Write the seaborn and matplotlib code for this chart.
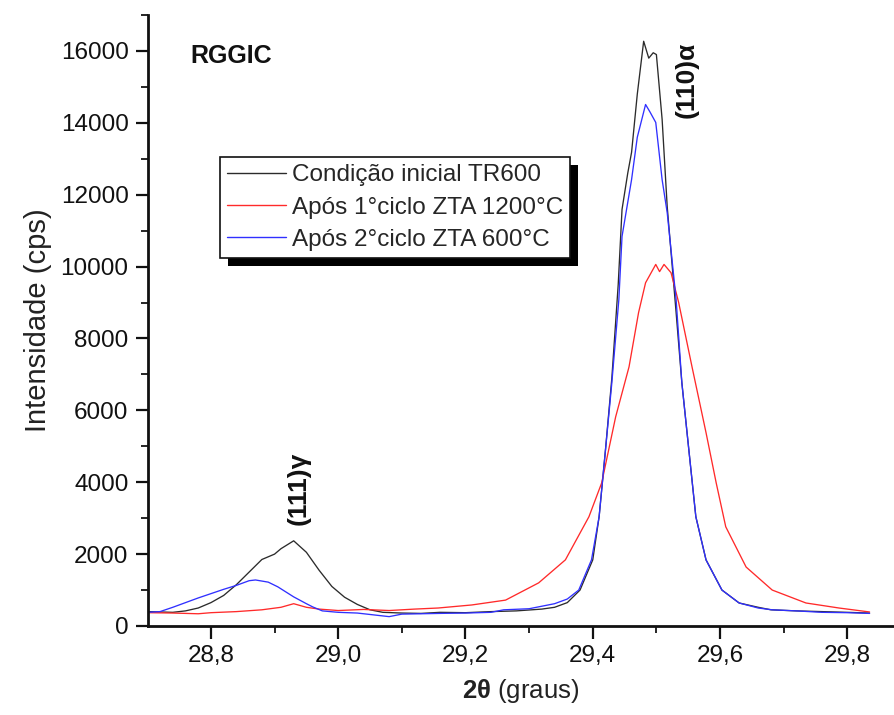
import numpy as np
import pandas as pd
import matplotlib
matplotlib.use("Agg")
import matplotlib.pyplot as plt
from matplotlib.patches import Rectangle
from matplotlib.ticker import FixedLocator, MultipleLocator
import seaborn as sns

# ---------------- data ----------------
series_names = ["Condição inicial TR600",
                "Após 1°ciclo ZTA 1200°C",
                "Após 2°ciclo ZTA 600°C"]

x_tr600 = [28.70, 28.72, 28.74, 28.76, 28.78, 28.80, 28.82, 28.84, 28.86, 28.88,
           28.90, 28.91, 28.93, 28.95, 28.97, 28.99, 29.01, 29.03, 29.05, 29.07,
           29.10, 29.13, 29.16, 29.20, 29.24, 29.28, 29.32, 29.34, 29.36, 29.38,
           29.40, 29.41, 29.42, 29.43, 29.44, 29.446, 29.455, 29.461, 29.47, 29.48,
           29.488, 29.495, 29.50, 29.509, 29.517, 29.531, 29.54, 29.551, 29.562, 29.578,
           29.603, 29.63, 29.66, 29.68, 29.72, 29.76, 29.80, 29.835]
y_tr600 = [400, 390, 380, 420, 500, 650, 850, 1150, 1500, 1850,
           2000, 2150, 2370, 2050, 1550, 1100, 800, 600, 450, 380,
           360, 350, 380, 370, 400, 420, 470, 520, 650, 1000,
           1840, 3040, 4900, 6900, 9500, 11590, 12600, 13180, 14800, 16270,
           15800, 15950, 15900, 14100, 11670, 8720, 6770, 4900, 3040, 1840,
           1000, 640, 520, 450, 420, 400, 380, 360]

x_zta1200 = [28.70, 28.74, 28.78, 28.80, 28.84, 28.88, 28.91, 28.93, 28.95, 28.97,
             29.00, 29.04, 29.08, 29.12, 29.157, 29.21, 29.263, 29.315, 29.357, 29.394,
             29.414, 29.436, 29.457, 29.472, 29.483, 29.499, 29.505, 29.512, 29.523, 29.535,
             29.556, 29.578, 29.594, 29.609, 29.641, 29.682, 29.735, 29.787, 29.835]
y_zta1200 = [370, 360, 340, 370, 400, 450, 520, 620, 520, 470,
             430, 460, 430, 470, 500, 585, 720, 1200, 1840, 3040,
             3980, 5820, 7210, 8720, 9550, 10060, 9860, 10060, 9830, 9000,
             7210, 5380, 3980, 2760, 1640, 1000, 640, 500, 390]

x_zta600 = [28.70, 28.72, 28.74, 28.76, 28.78, 28.80, 28.82, 28.84, 28.86, 28.87,
            28.89, 28.905, 28.93, 28.95, 28.96, 28.975, 29.00, 29.03, 29.06, 29.08,
            29.10, 29.13, 29.16, 29.20, 29.24, 29.26, 29.30, 29.34, 29.36, 29.378,
            29.398, 29.41, 29.42, 29.43, 29.441, 29.446, 29.461, 29.47, 29.483, 29.49,
            29.499, 29.509, 29.517, 29.531, 29.54, 29.551, 29.562, 29.578, 29.603, 29.63,
            29.66, 29.682, 29.72, 29.76, 29.80, 29.835]
y_zta600 = [380, 400, 520, 650, 780, 900, 1020, 1130, 1260, 1280,
            1220, 1090, 810, 620, 530, 420, 380, 360, 300, 260,
            330, 340, 350, 360, 380, 450, 480, 620, 750, 1000,
            1840, 3040, 4900, 6770, 9080, 10840, 12420, 13600, 14510, 14300,
            14010, 12420, 11500, 9080, 6770, 4900, 3040, 1840, 1000, 640,
            500, 450, 420, 380, 370, 350]

x_ticks = [28.8, 29.0, 29.2, 29.4, 29.6, 29.8]
x_ticklabels = ["28,8", "29,0", "29,2", "29,4", "29,6", "29,8"]
y_ticks = [0, 2000, 4000, 6000, 8000, 10000, 12000, 14000, 16000]
y_ticklabels = ["0", "2000", "4000", "6000", "8000", "10000", "12000", "14000", "16000"]

# ---------------- build frame ----------------
df = pd.concat([
    pd.DataFrame({"x": x_tr600, "y": y_tr600, "s": series_names[0]}),
    pd.DataFrame({"x": x_zta1200, "y": y_zta1200, "s": series_names[1]}),
    pd.DataFrame({"x": x_zta600, "y": y_zta600, "s": series_names[2]}),
], ignore_index=True)

sns.set_style("ticks")
plt.rcParams["font.family"] = ["Liberation Sans", "DejaVu Sans"]
plt.rcParams["mathtext.fontset"] = "custom"
plt.rcParams["mathtext.rm"] = "Liberation Sans"
plt.rcParams["mathtext.bf"] = "Liberation Sans:bold"
plt.rcParams["mathtext.it"] = "Liberation Sans:italic"

fig = plt.figure(figsize=(8.94, 7.15), dpi=100)
ax = fig.add_axes([0.1655, 0.1245, 0.8335, 0.8545])

palette = {series_names[0]: "#2b2b2b",
           series_names[1]: "#ff2a2a",
           series_names[2]: "#3030ff"}
sns.lineplot(data=df, x="x", y="y", hue="s", palette=palette, sort=False,
             estimator=None, linewidth=0.95, ax=ax)

ax.set_xlim(28.701, 29.872)
ax.set_ylim(0, 17000)

ax.xaxis.set_major_locator(FixedLocator(x_ticks))
ax.set_xticklabels(x_ticklabels)
ax.xaxis.set_minor_locator(MultipleLocator(0.1))
ax.yaxis.set_major_locator(FixedLocator(y_ticks))
ax.set_yticklabels(y_ticklabels)
ax.yaxis.set_minor_locator(MultipleLocator(1000))

ax.tick_params(axis="both", which="major", direction="out", length=9, width=1.6,
               labelsize=17.5, colors="#111111", pad=5)
ax.tick_params(axis="both", which="minor", direction="out", length=5, width=1.4)

for side in ["top", "right"]:
    ax.spines[side].set_visible(False)
for side in ["left", "bottom"]:
    ax.spines[side].set_linewidth(2.0)
    ax.spines[side].set_color("#111111")

ax.set_ylabel("Intensidade (cps)", fontsize=21, color="#222222", labelpad=6)
ax.set_xlabel(r"$\mathbf{2θ}$ (graus)", fontsize=18.5, color="#222222", labelpad=7)

ax.text(28.767, 15850, "RGGIC", fontsize=18, fontweight="bold",
        ha="left", va="center", color="#111111")
ax.text(28.937, 3830, "(111)γ", fontsize=19, fontweight="bold",
        rotation=90, ha="center", va="center", color="#111111")
ax.text(29.548, 15200, "(110)α", fontsize=19, fontweight="bold",
        rotation=90, ha="center", va="center", color="#111111")

handles, labels = ax.get_legend_handles_labels()
leg = ax.legend(handles, labels, loc="upper left",
                bbox_to_anchor=(0.0966, 0.7676), borderaxespad=0,
                fontsize=17.5, frameon=True, fancybox=False, shadow=False,
                handlelength=2.4, handletextpad=0.25, labelspacing=0.42,
                borderpad=0.3, framealpha=1)
leg.get_frame().set_edgecolor("#111111")
leg.get_frame().set_linewidth(1.2)
leg.set_zorder(6)
for line in leg.get_lines():
    line.set_linewidth(1.0)

# black drop shadow behind the legend box
fig.canvas.draw()
bb = leg.get_window_extent()
off = 8
shadow = Rectangle((bb.x0 + off, bb.y0 - off), bb.width, bb.height,
                   transform=None, facecolor="black", edgecolor="none",
                   zorder=5.5, clip_on=False)
ax.add_artist(shadow)

fig.savefig("out.png", dpi=100)
